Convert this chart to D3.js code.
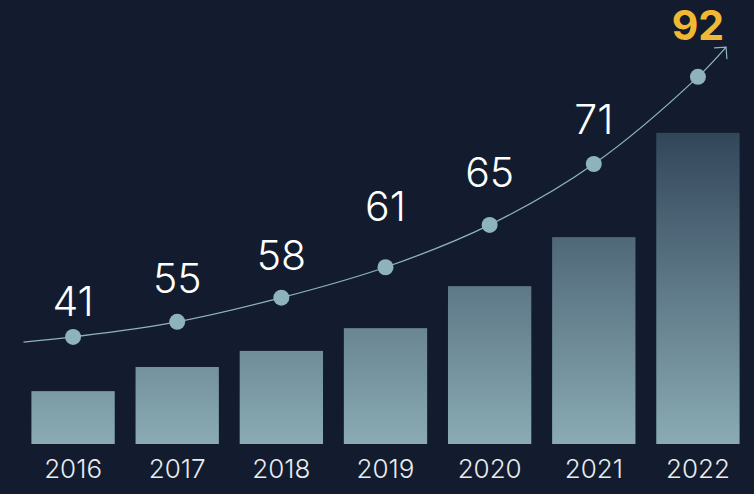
<!DOCTYPE html>
<html>
<head>
<meta charset="utf-8">
<script src="https://d3js.org/d3.v7.min.js"></script>
<style>
  html, body { margin: 0; padding: 0; background: #121c2e; }
  svg { display: block; }
</style>
</head>
<body>
<script>
// data
var years = ["2016", "2017", "2018", "2019", "2020", "2021", "2022"];
var labels = [41, 55, 58, 61, 65, 71, 92];
var barValues = [15.1, 22.0, 26.6, 33.1, 45.1, 59.1, 88.9];
var trendValues = [30.6, 34.9, 41.8, 50.5, 62.6, 80.0, 104.9];
var labelLevels = [36.6, 43.1, 49.7, 63.7, 73.4, 88.6, 115.4];
var trendStart = 29.1, trendEnd = 113.4;

var width = 754, height = 494;

var svg = d3.select("body").append("svg")
    .attr("width", width)
    .attr("height", height);

var x = d3.scaleBand()
    .domain(years)
    .range([21, 750])
    .paddingInner(0.2)
    .paddingOuter(0.1);

var y = d3.scaleLinear()
    .domain([0, 100])
    .range([444, 94]);

var defs = svg.append("defs");

var grad = defs.append("linearGradient")
    .attr("id", "barGrad")
    .attr("gradientUnits", "userSpaceOnUse")
    .attr("x1", 0).attr("x2", 0)
    .attr("y1", y(d3.max(barValues))).attr("y2", y(0));
grad.append("stop").attr("offset", "0%").attr("stop-color", "#32465a");
grad.append("stop").attr("offset", "100%").attr("stop-color", "#8aabb4");

defs.append("marker")
    .attr("id", "arrow")
    .attr("viewBox", "0 0 20 20")
    .attr("refX", 10).attr("refY", 10)
    .attr("markerWidth", 20).attr("markerHeight", 20)
    .attr("markerUnits", "userSpaceOnUse")
    .attr("orient", "auto")
  .append("path")
    .attr("d", "M1.5,1.5 L10,10 L1.5,18.5")
    .attr("fill", "none")
    .attr("stroke", "#8fb3bd")
    .attr("stroke-width", 1.2);

// bars
svg.append("g")
  .selectAll("rect")
  .data(years)
  .enter().append("rect")
    .attr("x", function(d) { return x(d); })
    .attr("width", x.bandwidth())
    .attr("y", function(d, i) { return y(barValues[i]); })
    .attr("height", function(d, i) { return y(0) - y(barValues[i]); })
    .attr("fill", "url(#barGrad)");

// year axis
var axis = svg.append("g")
    .attr("transform", "translate(0," + y(0) + ")")
    .call(d3.axisBottom(x).tickSize(0).tickPadding(16));
axis.select(".domain").remove();
axis.selectAll("text")
    .attr("fill", "#e9edf1")
    .attr("font-family", "Inter, 'Open Sans', sans-serif")
    .attr("font-weight", 300)
    .attr("font-size", 26)
    .attr("dy", "0.71em");

// trend line
var cx = function(i) { return x(years[i]) + x.bandwidth() / 2; };
var step = x.step();
var pts = [[cx(0) - step * 0.476, y(trendStart)]];
trendValues.forEach(function(v, i) { pts.push([cx(i), y(v)]); });
pts.push([cx(years.length - 1) + step * 0.27, y(trendEnd)]);

svg.append("path")
    .datum(pts)
    .attr("fill", "none")
    .attr("stroke", "#8fb3bd")
    .attr("stroke-width", 1.3)
    .attr("marker-end", "url(#arrow)")
    .attr("d", d3.line().curve(d3.curveCatmullRom.alpha(0.5)));

svg.append("g")
  .selectAll("circle")
  .data(trendValues)
  .enter().append("circle")
    .attr("cx", function(d, i) { return cx(i); })
    .attr("cy", function(d) { return y(d); })
    .attr("r", 8)
    .attr("fill", "#8fb3bd");

// value labels
svg.append("g")
  .selectAll("text")
  .data(labels)
  .enter().append("text")
    .attr("x", function(d, i) { return cx(i); })
    .attr("y", function(d, i) { return y(labelLevels[i]); })
    .attr("text-anchor", "middle")
    .attr("font-family", "Inter, 'Open Sans', sans-serif")
    .attr("font-size", 41)
    .attr("font-weight", function(d, i) { return i === labels.length - 1 ? 700 : 300; })
    .attr("fill", function(d, i) { return i === labels.length - 1 ? "#f2b834" : "#ffffff"; })
    .text(function(d) { return d; });
</script>
</body>
</html>
